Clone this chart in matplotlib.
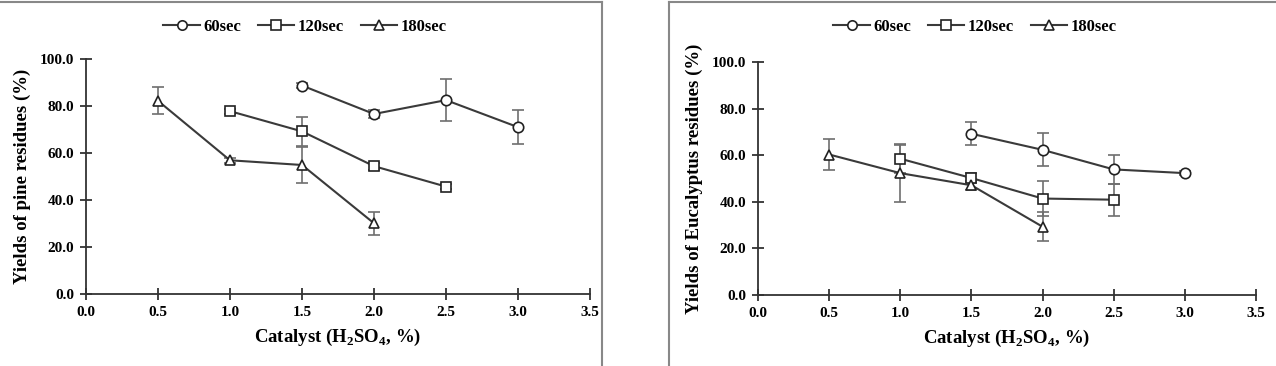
import matplotlib.pyplot as plt
from matplotlib.lines import Line2D

plt.rcParams['font.family'] = ['Liberation Serif', 'DejaVu Serif']
plt.rcParams['font.weight'] = 'bold'
plt.rcParams['mathtext.fontset'] = 'custom'
plt.rcParams['mathtext.rm'] = 'Liberation Serif:bold'

# catalyst concentration (H2SO4, %)
x_60 = [1.5, 2.0, 2.5, 3.0]
x_120 = [1.0, 1.5, 2.0, 2.5]
x_180 = [0.5, 1.0, 1.5, 2.0]

# pine residues yields (%)
pine_60 = [88.7, 76.6, 82.5, 71.0]
pine_60_err = [1.2, 1.5, 8.8, 7.2]
pine_120 = [77.8, 69.2, 54.4, 45.7]
pine_120_err = [1.0, 6.3, 1.5, 1.0]
pine_180 = [82.2, 56.9, 54.9, 30.1]
pine_180_err = [5.7, 1.0, 7.8, 4.8]

# eucalyptus residues yields (%)
euc_60 = [69.2, 62.3, 53.9, 52.3]
euc_60_err = [5.0, 7.1, 6.1, 1.0]
euc_120 = [58.5, 50.2, 41.4, 40.9]
euc_120_err = [6.3, 2.0, 7.6, 6.8]
euc_180 = [60.3, 52.3, 47.1, 29.3]
euc_180_err = [6.7, 12.2, 2.0, 6.2]

labels = ['60sec', '120sec', '180sec']
markers = ['o', 's', '^']
xticks = [0.0, 0.5, 1.0, 1.5, 2.0, 2.5, 3.0, 3.5]
yticks = [0, 20, 40, 60, 80, 100]

fig = plt.figure(figsize=(12.76, 3.66), dpi=100)

# panel frames
fig.add_artist(Line2D([0, 602 / 1276], [1 - 1.5 / 366] * 2, color='#888888', lw=1.5))
fig.add_artist(Line2D([602 / 1276] * 2, [0, 1 - 1.5 / 366], color='#888888', lw=1.5))
fig.add_artist(Line2D([669 / 1276, 1], [1 - 1.5 / 366] * 2, color='#888888', lw=1.5))
fig.add_artist(Line2D([669 / 1276] * 2, [0, 1 - 1.5 / 366], color='#888888', lw=1.5))

ax1 = fig.add_axes([86 / 1276, 1 - 294 / 366, 504 / 1276, 235 / 366])
ax2 = fig.add_axes([758 / 1276, 1 - 295 / 366, 498 / 1276, 233 / 366])

panels = [
    (ax1, [pine_60, pine_120, pine_180], [pine_60_err, pine_120_err, pine_180_err],
     'Yields of pine residues (%)', (305 / 1276, 1 - 27 / 366)),
    (ax2, [euc_60, euc_120, euc_180], [euc_60_err, euc_120_err, euc_180_err],
     'Yields of Eucalyptus residues (%)', (975 / 1276, 1 - 27 / 366)),
]

for ax, ys, errs, ylab, legpos in panels:
    handles = []
    for xs, y, e, m, lab in zip([x_60, x_120, x_180], ys, errs, markers, labels):
        ax.errorbar(xs, y, yerr=e, fmt='none', ecolor='#6e6e6e', elinewidth=1.2,
                    capsize=4, capthick=1.2, zorder=2)
        h, = ax.plot(xs, y, color='#3a3a3a', lw=1.5, marker=m, markersize=7.5,
                     markerfacecolor='white', markeredgecolor='#222222',
                     markeredgewidth=1.2, label=lab, zorder=3)
        handles.append(h)
    ax.set_xlim(0, 3.5)
    ax.set_ylim(0, 100)
    ax.set_xticks(xticks)
    ax.set_xticklabels([f'{t:.1f}' for t in xticks])
    ax.set_yticks(yticks)
    ax.set_yticklabels([f'{t:.1f}' for t in yticks])
    for s in ['top', 'right']:
        ax.spines[s].set_visible(False)
    for s in ['left', 'bottom']:
        ax.spines[s].set_color('#333333')
        ax.spines[s].set_linewidth(1.3)
    ax.tick_params(direction='inout', length=9, width=1.3, color='#333333',
                   labelsize=11, pad=4)
    for lbl in ax.get_xticklabels() + ax.get_yticklabels():
        lbl.set_fontweight('bold')
    ax.set_xlabel(r'Catalyst (H$_2$SO$_4$, %)', fontsize=13.5, fontweight='bold', labelpad=6)
    ax.set_ylabel(ylab, fontsize=13.5, fontweight='bold', labelpad=6)
    fig.legend(handles=handles, loc='center', bbox_to_anchor=legpos, ncol=3,
               frameon=False, fontsize=12, handlelength=2.2, columnspacing=1.0,
               handletextpad=0.2, borderaxespad=0, markerscale=0.9)

plt.savefig('out.png', dpi=100)
plt.close()
